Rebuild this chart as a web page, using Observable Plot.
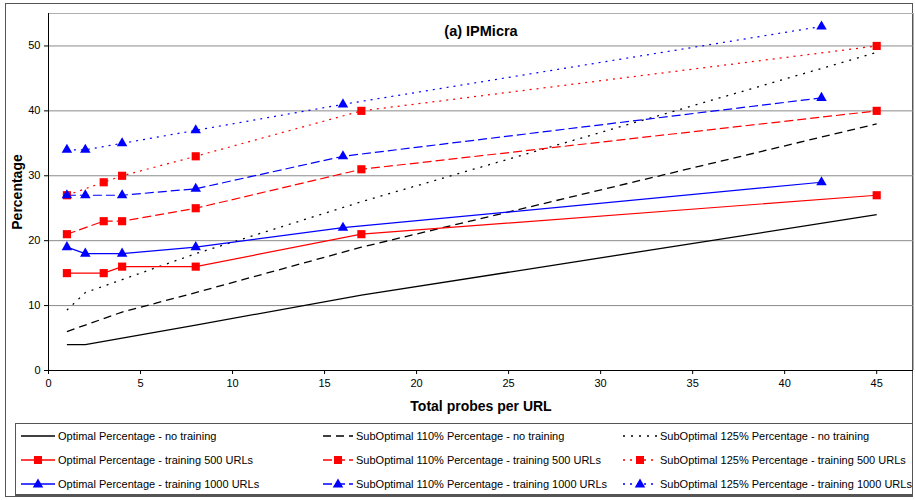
<!DOCTYPE html>
<html>
<head>
<meta charset="utf-8">
<script src="https://cdn.jsdelivr.net/npm/d3@7"></script>
<script src="https://cdn.jsdelivr.net/npm/@observablehq/plot@0.6"></script>
<style>
  html, body { margin: 0; padding: 0; background: #fff; }
  body { width: 915px; height: 500px; position: relative; overflow: hidden; font-family: "Liberation Sans", Arial, sans-serif; }
  #outer { position: absolute; left: 5px; top: 3px; width: 908px; height: 494px; border: 1px solid #555; box-sizing: border-box; }
  #chart { position: absolute; left: 0; top: 0; }
  #legend { position: absolute; left: 15px; top: 423px; width: 898px; height: 73px; border: 1px solid #555; border-bottom: 2px solid #555; box-sizing: border-box; background: #fff; }
  .item { position: absolute; height: 14px; display: flex; align-items: center; font-size: 11px; color: #000; white-space: nowrap; }
  .item svg { margin-right: 3px; }
</style>
</head>
<body>
<div id="outer"></div>
<div id="chart"></div>
<div id="legend"></div>
<script>
// ---- data ----
const xNoTraining = [1, 2, 4, 8, 17, 45];
const x500 = [1, 3, 4, 8, 17, 45];
const x1000 = [1, 2, 4, 8, 16, 42];

const optNoTraining = [4, 4, 5, 7, 11.6, 24];
const sub110NoTraining = [6, 7, 9, 12, 19, 38];
const sub125NoTraining = [9.3, 12, 14, 18, 26, 49];

const opt500 = [15, 15, 16, 16, 21, 27];
const sub110_500 = [21, 23, 23, 25, 31, 40];
const sub125_500 = [27, 29, 30, 33, 40, 50];

const opt1000 = [19, 18, 18, 19, 22, 29];
const sub110_1000 = [27, 27, 27, 28, 33, 42];
const sub125_1000 = [34, 34, 35, 37, 41, 53];

const seriesNames = [
  "Optimal Percentage - no training",
  "SubOptimal 110% Percentage - no training",
  "SubOptimal 125% Percentage - no training",
  "Optimal Percentage - training 500 URLs",
  "SubOptimal 110% Percentage - training 500 URLs",
  "SubOptimal 125% Percentage - training 500 URLs",
  "Optimal Percentage - training 1000 URLs",
  "SubOptimal 110% Percentage - training 1000 URLs",
  "SubOptimal 125% Percentage - training 1000 URLs"
];
const xTicks = [0, 5, 10, 15, 20, 25, 30, 35, 40, 45];
const yTicks = [0, 10, 20, 30, 40, 50];
const titleText = "(a) IPMicra";
const xLabel = "Total probes per URL";
const yLabel = "Percentage";

// ---- styles ----
const DASH = {dashed: "9,4", dotted: "2,5"};
const BLACK_DASH = {dashed: "8,5", dotted: "2,6"};
const seriesDefs = [
  {x: xNoTraining, y: optNoTraining, color: "#000", dash: null, symbol: null},
  {x: xNoTraining, y: sub110NoTraining, color: "#000", dash: BLACK_DASH.dashed, symbol: null},
  {x: xNoTraining, y: sub125NoTraining, color: "#000", dash: BLACK_DASH.dotted, symbol: null},
  {x: x500, y: opt500, color: "#ff0000", dash: null, symbol: "square"},
  {x: x500, y: sub110_500, color: "#ff0000", dash: DASH.dashed, symbol: "square"},
  {x: x500, y: sub125_500, color: "#ff0000", dash: DASH.dotted, symbol: "square"},
  {x: x1000, y: opt1000, color: "#0000ff", dash: null, symbol: "triangle"},
  {x: x1000, y: sub110_1000, color: "#0000ff", dash: DASH.dashed, symbol: "triangle"},
  {x: x1000, y: sub125_1000, color: "#0000ff", dash: DASH.dotted, symbol: "triangle"}
].map((d, i) => ({...d, name: seriesNames[i], data: d.x.map((xv, j) => ({x: xv, y: d.y[j]}))}));

const marks = [
  Plot.gridY([10, 20, 30, 40, 50], {stroke: "#8a8a8a", strokeOpacity: 1}),
  Plot.ruleY([55], {stroke: "#b0b0b0"}),
  Plot.ruleX([47], {stroke: "#b0b0b0"}),
  Plot.axisX({ticks: xTicks, tickSize: 4, tickPadding: 5, fontSize: 11, label: null, stroke: "#000"}),
  Plot.axisY({ticks: yTicks, tickSize: 4, tickPadding: 4, fontSize: 11, label: null, stroke: "#000"}),
  Plot.ruleX([0], {stroke: "#000"}),
  Plot.ruleY([0], {stroke: "#000"})
];
for (const s of seriesDefs) {
  marks.push(Plot.line(s.data, {x: "x", y: "y", stroke: s.color, strokeWidth: s.color === "#000" ? 1.3 : 1.2, strokeDasharray: s.dash, strokeLinecap: "butt"}));
}
for (const s of seriesDefs) {
  if (s.symbol) {
    marks.push(Plot.dot(s.data, {x: "x", y: "y", symbol: s.symbol, fill: s.color, stroke: "none", r: s.symbol === "square" ? 4.6 : 3.9}));
  }
}
marks.push(Plot.text([titleText], {frameAnchor: "top", dy: 12, fontSize: 14.5, fontWeight: "bold", fill: "#000"}));
marks.push(Plot.text([xLabel], {frameAnchor: "bottom", dy: 40, fontSize: 14, fontWeight: "bold", fill: "#000"}));
marks.push(Plot.text([yLabel], {frameAnchor: "left", textAnchor: "middle", dx: -31, rotate: -90, fontSize: 14, fontWeight: "bold", fill: "#000"}));

const chart = Plot.plot({
  width: 915,
  height: 420,
  marginLeft: 48,
  marginRight: 2,
  marginTop: 13,
  marginBottom: 50,
  style: {fontFamily: "'Liberation Sans', Arial, sans-serif", background: "transparent", overflow: "visible"},
  x: {domain: [0, 47]},
  y: {domain: [0, 55]},
  marks
});
document.getElementById("chart").appendChild(chart);

// ---- legend ----
const legend = document.getElementById("legend");
const colX = [5, 307, 607];
const rowY = [5, 29, 53];
seriesDefs.forEach((s, i) => {
  const col = i % 3, row = Math.floor(i / 3);
  const div = document.createElement("div");
  div.className = "item";
  div.style.left = colX[col] + "px";
  div.style.top = rowY[row] + "px";
  const w = col === 1 ? 30 : 34;
  const svg = d3.create("svg").attr("width", w).attr("height", 14);
  svg.append("line").attr("x1", 0).attr("x2", w).attr("y1", 7).attr("y2", 7)
    .attr("stroke", s.color).attr("stroke-width", 1.3)
    .attr("stroke-dasharray", s.dash);
  if (s.symbol === "square") {
    svg.append("rect").attr("x", w / 2 - 4).attr("y", 3).attr("width", 8).attr("height", 8).attr("fill", s.color);
  } else if (s.symbol === "triangle") {
    svg.append("path").attr("d", d3.symbol(d3.symbolTriangle, 48)()).attr("transform", `translate(${w / 2},7.5)`).attr("fill", s.color);
  }
  div.appendChild(svg.node());
  const span = document.createElement("span");
  span.textContent = s.name;
  div.appendChild(span);
  legend.appendChild(div);
});
</script>
</body>
</html>
